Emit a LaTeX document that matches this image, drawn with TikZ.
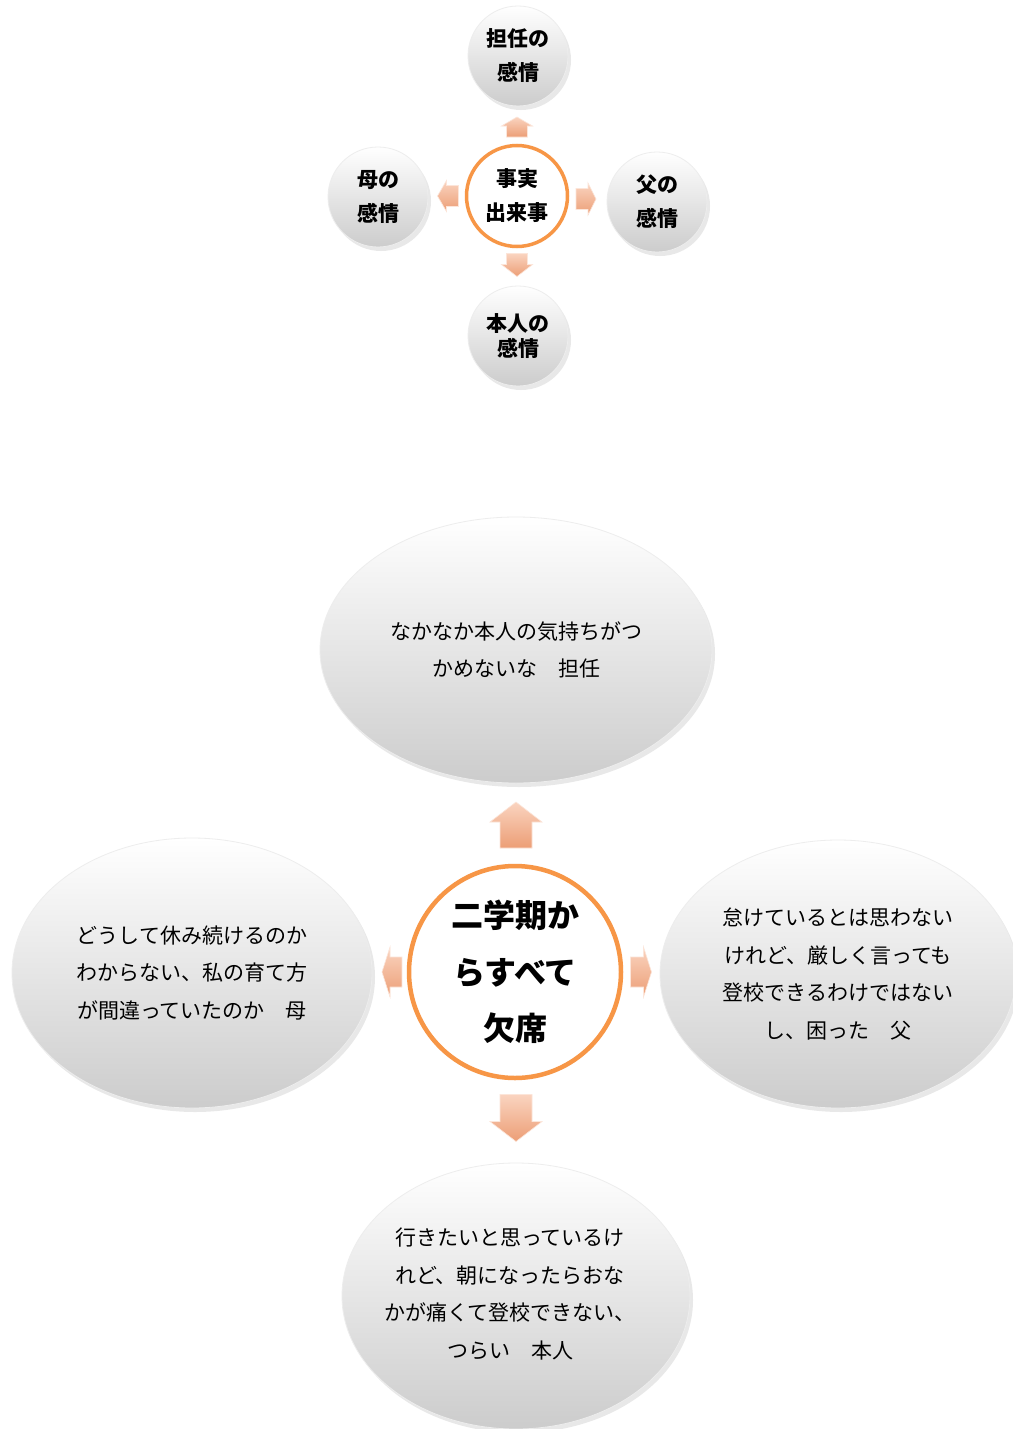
\documentclass[tikz,border=0pt]{standalone}
\usepackage{fontspec}
\setmainfont{Noto Sans CJK JP}
\usetikzlibrary{shapes.geometric,shadows}
\definecolor{ringorange}{RGB}{247,150,70}
\definecolor{arrowlight}{RGB}{250,212,192}
\definecolor{arrowdark}{RGB}{236,158,118}
\definecolor{bubblegray}{RGB}{204,204,204}
\tikzset{
  bubble/.style={ellipse, inner sep=0pt, align=center, top color=white, bottom color=bubblegray,
    draw=black!7, line width=0.8pt,
    drop shadow={opacity=0.18, shadow xshift=3pt, shadow yshift=-4pt}},
  smallbubble/.style={bubble, circle, minimum size=100pt, font=\bfseries\fontsize{21}{34}\selectfont},
  bigtext/.style={font=\fontsize{21}{37.5}\selectfont},
  hub/.style={circle, inner sep=0pt, align=center, fill=white, draw=ringorange},
  pics/barrow/.style n args={4}{code={
    \path[top color=arrowlight, bottom color=arrowdark, draw=arrowlight!60!white, line width=0.6pt]
      ({-#1/2},{-#3/2}) -- ({#1/2-#4},{-#3/2}) -- ({#1/2-#4},{-#2/2}) -- ({#1/2},0)
      -- ({#1/2-#4},{#2/2}) -- ({#1/2-#4},{#3/2}) -- ({-#1/2},{#3/2}) -- cycle;
  }}
}
\begin{document}
\begin{tikzpicture}[x=1pt,y=-1pt]
\useasboundingbox[fill=white] (0,0) rectangle (1012,1429);

% ---------- top small diagram ----------
\node[hub, minimum size=101pt, line width=3.5pt, font=\bfseries\fontsize{21}{34}\selectfont] (c1) at (517,196) {事実\\出来事};
\node[smallbubble] (t1) at (518,56) {担任の\\感情};
\node[smallbubble] (l1) at (378,197) {母の\\感情};
\node[smallbubble] (r1) at (657,202) {父の\\感情};
\node[smallbubble, font=\bfseries\fontsize{21}{25}\selectfont] (b1) at (518,336) {本人の\\感情};
\pic[rotate=90]  (at1) at (517,127) {barrow={20}{31}{21}{9}};
\pic[rotate=-90] (ab1) at (517,265) {barrow={23}{31}{21}{12}};
\pic[rotate=180] (al1) at (448,196) {barrow={21}{31}{21}{9}};
\pic            (ar1) at (586,199) {barrow={20}{32}{21}{8}};

% ---------- bottom large diagram ----------
\node[hub, minimum size=212pt, line width=4.5pt, font=\bfseries\fontsize{32}{56.5}\selectfont] (c2) at (515,972) {二学期か\\らすべて\\欠席};
\node[bubble, bigtext, minimum width=392pt, minimum height=266pt] (t2) at (516,650) {なかなか本人の気持ちがつ\\かめないな　担任};
\node[bubble, bigtext, minimum width=360pt, minimum height=270pt] (l2) at (192,973) {どうして休み続けるのか\\わからない、私の育て方\\が間違っていたのか　母};
\node[bubble, bigtext, minimum width=356pt, minimum height=268pt] (r2) at (838,974) {怠けているとは思わない\\けれど、厳しく言っても\\登校できるわけではない\\し、困った　父};
\node[bubble, minimum width=348pt, minimum height=266pt] (b2) at (516,1296) {};
\node[bigtext, align=center, inner sep=0pt] (b2text) at (510,1294) {行きたいと思っているけ\\れど、朝になったらおな\\かが痛くて登校できない、\\つらい　本人};
\pic[rotate=90]  (at2) at (516,825)  {barrow={46}{52}{32}{20}};
\pic[rotate=-90] (ab2) at (516,1118) {barrow={47}{52}{32}{20}};
\pic[rotate=180] (al2) at (392,972)  {barrow={20}{50}{30}{8}};
\pic            (ar2) at (641,972)  {barrow={21}{50}{30}{8}};
\end{tikzpicture}
\end{document}
